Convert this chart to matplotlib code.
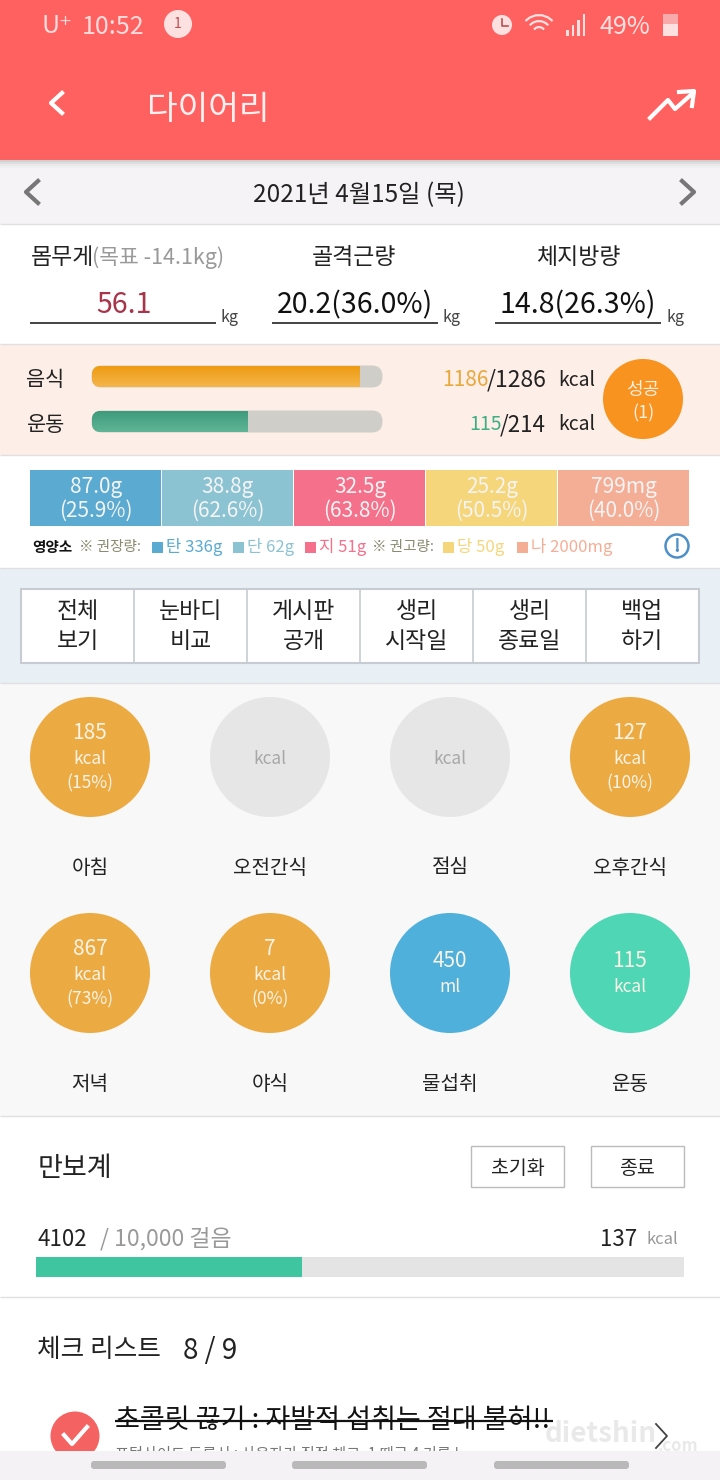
# 다이어리 화면 다시 그리기
import matplotlib
matplotlib.use("Agg")
import matplotlib.pyplot as plt
from matplotlib.patches import Rectangle, Circle, FancyBboxPatch
import numpy as np

plt.rcParams['font.family'] = ['Noto Sans CJK KR', 'DejaVu Sans']

# data
food_now, food_goal = 1186, 1286
move_now, move_goal = 115, 214
body_labels = ["몸무게", "골격근량", "체지방량"]
body_values = ["56.1", "20.2(36.0%)", "14.8(26.3%)"]
nutri_values = ["87.0g", "38.8g", "32.5g", "25.2g", "799mg"]
nutri_pcts = ["(25.9%)", "(62.6%)", "(63.8%)", "(50.5%)", "(40.0%)"]
nutri_colors = ["#5baad2", "#8cc3d2", "#f5708a", "#f5d67a", "#f5ae96"]
legend_names = ["탄 336g", "단 62g", "지 51g", "당 50g", "나 2000mg"]
buttons = [("전체", "보기"), ("눈바디", "비교"), ("게시판", "공개"),
           ("생리", "시작일"), ("생리", "종료일"), ("백업", "하기")]
meal_names = ["아침", "오전간식", "점심", "오후간식", "저녁", "야식", "물섭취", "운동"]
meal_lines = [["185", "kcal", "(15%)"], ["kcal"], ["kcal"], ["127", "kcal", "(10%)"],
              ["867", "kcal", "(73%)"], ["7", "kcal", "(0%)"], ["450", "ml"], ["115", "kcal"]]
meal_colors = ["#ecab42", "#e6e6e6", "#e6e6e6", "#ecab42",
               "#ecab42", "#ecab42", "#4fb0dc", "#4fd6b4"]
steps_now, steps_goal = 4102, 10000

fig = plt.figure(figsize=(7.2, 14.8), dpi=100)
ax = fig.add_axes([0, 0, 1, 1])
ax.set_xlim(0, 720)
ax.set_ylim(1480, 0)
ax.axis("off")


def box(x, y, w, h, fc, ec="none", lw=0, z=1):
    ax.add_patch(Rectangle((x, y), w, h, fc=fc, ec=ec, lw=lw, zorder=z))


def txt(x, y, s, size=15, color="#222222", ha="center", z=5, **kw):
    # 글꼴 중심이 위로 뜨므로 조금 내림
    ax.text(x, y + 8, s, fontsize=size, color=color, ha=ha, va="center", zorder=z, **kw)


def hline(y, x0=0, x1=720, color="#dcdcdc", lw=1, z=2):
    ax.plot([x0, x1], [y, y], color=color, lw=lw, zorder=z, solid_capstyle="butt")


# section backgrounds
box(0, 0, 720, 160, "#ff6060")
for i, c in enumerate(["#cfcfcf", "#dedede", "#e9e9e9", "#f0eff0"]):
    box(0, 160 + i * 2, 720, 2, c)
box(0, 168, 720, 56, "#f5f3f5")
box(0, 224, 720, 120, "white")
box(0, 344, 720, 111, "#fdeee7")
box(0, 455, 720, 113, "white")
box(0, 568, 720, 115, "#e8eff5")
box(0, 683, 720, 433, "#f8f8f8")
box(0, 1116, 720, 364, "white")
for y in [224, 344, 455, 568, 683, 1116, 1297]:
    hline(y, color="#e0e0e0")

# status bar
txt(42, 18, "U⁺", 18, "#fbdcdc", ha="left")
txt(82, 19, "10:52", 18, "#fbdcdc", ha="left")
ax.add_patch(Circle((178, 24), 14, fc="#fde0e0", zorder=3))
txt(178, 16, "1", 10, "#c05050")
ax.add_patch(Circle((502, 25), 10, fc="#fde0e0", zorder=3))
ax.plot([502, 502, 508], [19, 26, 26], color="#c05050", lw=1.2, zorder=4)
for r in [6, 12, 18]:
    t = np.radians(np.array([-135, -120, -100, -80, -60, -45]))
    ax.plot(539 + r * np.cos(t), 33 + r * np.sin(t), color="#fde0e0", lw=1.6, zorder=3)
for i, h in enumerate([6, 11, 16, 22]):
    box(566 + i * 5.5, 36 - h, 2.5, h, "#fde0e0", z=3)
txt(600, 19, "49%", 18, "#fde0e0", ha="left")
box(663, 14, 15, 22, "#f9a9a9", z=3)
box(663, 24, 15, 12, "#fde0e0", z=4)

# title bar
ax.plot([62, 51, 62], [93, 103, 113], color="white", lw=3, zorder=3)
txt(147, 101, "다이어리", 24, "#fdf0f0", ha="left")
ax.plot([650, 668, 675, 693], [118, 100, 109, 93], color="white", lw=3, zorder=3)
ax.plot([679, 694, 692], [92, 91, 106], color="white", lw=3, zorder=3)

# date bar
ax.plot([38, 26, 38], [181, 192, 203], color="#777777", lw=3, zorder=3)
ax.plot([682, 694, 682], [181, 192, 203], color="#777777", lw=3, zorder=3)
txt(359, 187, "2021년 4월15일 (목)", 17.5)

# body numbers
txt(31, 250, body_labels[0], 16.5, ha="left")
txt(92, 250, "(목표 -14.1kg)", 15.5, "#999999", ha="left")
txt(354, 249, body_labels[1], 16.5)
txt(578, 249, body_labels[2], 16.5)
value_x = [124, 355, 578]
value_col = ["#a8344a", "#111111", "#111111"]
line_span = [(30, 216), (272, 438), (495, 661)]
for v, x, c, sp in zip(body_values, value_x, value_col, line_span):
    txt(x, 297, v, 20.5, c, weight="medium")
    hline(322.5, sp[0], sp[1], "#222222", 1.2)
    txt(sp[1] + 14, 310, "kg", 11.5, "#444444")


# progress bars with gradient fill
def pill_bar(y, frac, c_top, c_bottom):
    x0, w, h = 92, 290, 21
    pill = FancyBboxPatch((x0 + 10, y + 10), w - 20, h - 20, boxstyle="round,pad=10.5",
                          fc="#d0cec9", ec="none", zorder=3)
    ax.add_patch(pill)
    grad = np.linspace(0, 1, 30).reshape(-1, 1, 1)
    top = np.array(matplotlib.colors.to_rgb(c_top)).reshape(1, 1, 3)
    bot = np.array(matplotlib.colors.to_rgb(c_bottom)).reshape(1, 1, 3)
    im = ax.imshow(top * (1 - grad) + bot * grad, extent=(x0, x0 + w * frac, y + h, y),
                   aspect="auto", zorder=4)
    im.set_clip_path(pill)


txt(45, 372, "음식", 15)
txt(46, 417, "운동", 15)
pill_bar(366, food_now / food_goal, "#ee9c12", "#f5b54a")
pill_bar(411, move_now / move_goal, "#3e9b7c", "#5fb596")
ax.set_xlim(0, 720)
ax.set_ylim(1480, 0)
txt(442, 372, str(food_now), 15, "#e8a83c", ha="left")
txt(487, 372, "/%d" % food_goal, 16.5, ha="left")
txt(558, 373, "kcal", 14, ha="left")
txt(469, 417, str(move_now), 14, "#3fae84", ha="left")
txt(500, 417, "/%d" % move_goal, 16, ha="left")
txt(558, 417, "kcal", 14, ha="left")
ax.add_patch(Circle((643, 399), 40, fc="#f7931e", zorder=3))
txt(643, 382, "성공", 13, "#fdeee0")
txt(643, 405, "(1)", 13, "#fdeee0")

# nutrient cells
cell_w = 132
for i, (v, p, c) in enumerate(zip(nutri_values, nutri_pcts, nutri_colors)):
    x = 30 + i * cell_w
    box(x, 470, cell_w - 1, 56, c)
    txt(x + cell_w / 2, 479, v, 15, "#f4f4f4")
    txt(x + cell_w / 2, 503, p, 15, "#f4f4f4")

txt(32, 539, "영양소", 10.5, "#111111", ha="left", weight="bold")
txt(79, 539, "※ 권장량:", 10.5, "#8a8a70", ha="left")
txt(372, 539, "※ 권고량:", 10.5, "#8a8a70", ha="left")
legend_x = [152, 233, 305, 443, 517]
for n, x, c in zip(legend_names, legend_x, nutri_colors):
    box(x, 542, 11, 11, c, z=3)
    txt(x + 14, 539, n, 12, c, ha="left")
ax.add_patch(Circle((677, 546), 11.5, fc="white", ec="#4d8fc7", lw=1.8, zorder=3))
txt(677, 538, "!", 13, "#4d8fc7", weight="bold")

# button row
btn_w = 113
box(21, 589, 678, 74, "white", "#c6ccd2", 1.5, z=2)
for i, (a, b) in enumerate(buttons):
    x = 21 + i * btn_w
    if i > 0:
        ax.plot([x, x], [589, 663], color="#c6ccd2", lw=1.2, zorder=3)
    txt(x + btn_w / 2, 604, a, 16.5)
    txt(x + btn_w / 2, 634, b, 16.5)

# meal circles
col_x = [90, 270, 450, 630]
row_y = [757, 973]
label_y = [860, 1076]
for i, (n, ls, c) in enumerate(zip(meal_names, meal_lines, meal_colors)):
    x, y, ly = col_x[i % 4], row_y[i // 4], label_y[i // 4]
    ax.add_patch(Circle((x, y), 60, fc=c, zorder=3))
    txt(x, ly, n, 14.5)
    tc = "#a8a8a8" if len(ls) == 1 else "#fbf3e6"
    if len(ls) == 3:
        ys = [y - 32, y - 6, y + 18]
    elif len(ls) == 2:
        ys = [y - 20, y + 6]
    else:
        ys = [y - 6]
    for s, yy in zip(ls, ys):
        fs = 15 if s[0].isdigit() else 12.5
        txt(x, yy, s, fs, tc)

# pedometer
txt(38, 1161, "만보계", 19.5, ha="left")
box(470.5, 1145.5, 93, 41, "white", "#bbbbbb", 1)
box(590.5, 1145.5, 93, 41, "white", "#bbbbbb", 1)
txt(518, 1160, "초기화", 14)
txt(637, 1160, "종료", 14)
txt(37, 1231, str(steps_now), 16, ha="left")
txt(100, 1231, "/ {:,} 걸음".format(steps_goal), 16.5, "#999999", ha="left")
txt(600, 1231, "137", 16, ha="left")
txt(647, 1232, "kcal", 12, "#999999", ha="left")
box(36, 1257, 648, 20, "#e4e4e4")
box(36, 1257, 648 * steps_now / steps_goal, 20, "#3fc6a0", z=2)

# check list
txt(37, 1342, "체크 리스트", 18.5, ha="left")
txt(183, 1343, "8 / 9", 20, ha="left", style="italic")
ax.add_patch(Circle((75, 1436), 24.5, fc="#f56262", zorder=3))
ax.plot([64, 72, 87], [1435, 1444, 1427], color="white", lw=3, zorder=4)
txt(115, 1412, "초콜릿 끊기 : 자발적 섭취는 절대 불허!!", 19.5, "#111111", ha="left")
hline(1420.5, 115, 553, "#111111", 1.6, z=6)
txt(115, 1446, "포털사이트 등록시 : 사용자가 직접 체크, 1 때로 4 기록 !", 11, "#777777", ha="left")
ax.plot([656, 667, 656], [1424, 1436, 1448], color="#444444", lw=1.3, zorder=6)

# bottom nav
box(0, 1451, 720, 29, "#f4f2f4", z=7)
for x0 in [91, 292, 494]:
    ax.add_patch(FancyBboxPatch((x0 + 3, 1464), 129, 2, boxstyle="round,pad=3",
                                fc="#b9b9b9", ec="none", zorder=8))
txt(545, 1426, "dietshin", 20, "#d8d8d8", ha="left", z=9, alpha=0.55, weight="bold")
txt(658, 1438, ".com", 12, "#d8d8d8", ha="left", z=9, alpha=0.55, weight="bold")

fig.savefig("out.png", dpi=100)
